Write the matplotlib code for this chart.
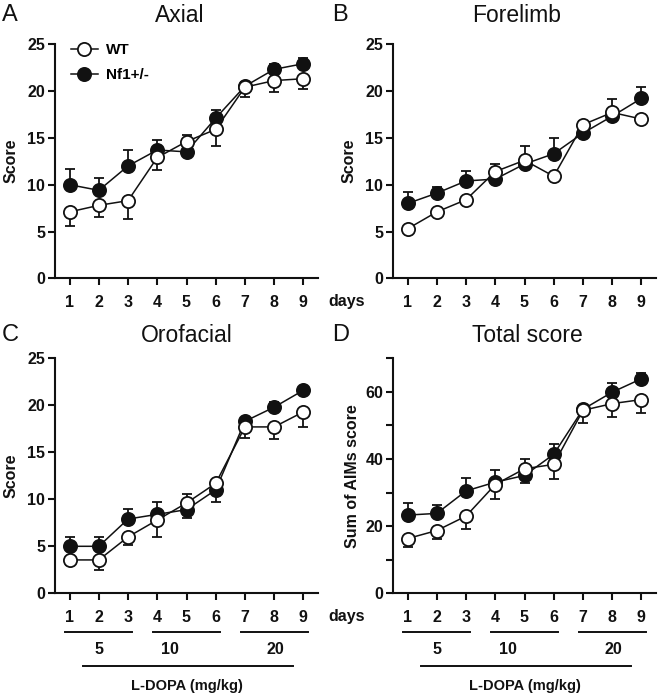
import matplotlib
matplotlib.use("Agg")
import matplotlib.pyplot as plt
import numpy as np
from matplotlib.ticker import MultipleLocator

plt.rcParams['font.family'] = ['Liberation Sans', 'DejaVu Sans']

days = [1, 2, 3, 4, 5, 6, 7, 8, 9]

axial_wt = [7.1, 7.8, 8.3, 12.9, 14.6, 15.9, 20.4, 21.1, 21.3]
axial_wt_sem = [1.5, 1.2, 2.0, 1.3, 0.7, 1.8, 1.1, 1.2, 1.1]
axial_nf = [10.0, 9.4, 12.0, 13.7, 13.5, 17.1, 20.5, 22.3, 22.9]
axial_nf_sem = [1.7, 1.3, 1.7, 1.1, 0.3, 0.9, 0.4, 0.6, 0.6]

fore_wt = [5.3, 7.1, 8.4, 11.4, 12.6, 10.9, 16.4, 17.7, 17.0]
fore_wt_sem = [0.4, 0.4, 0.4, 0.8, 1.55, 0.4, 0.4, 1.45, 0.4]
fore_nf = [8.0, 9.1, 10.4, 10.6, 12.2, 13.3, 15.5, 17.3, 19.2]
fore_nf_sem = [1.25, 0.7, 1.1, 0.4, 0.4, 1.7, 0.4, 0.4, 1.2]

oro_wt = [3.55, 3.55, 6.0, 7.8, 9.6, 11.7, 17.7, 17.7, 19.3]
oro_wt_sem = [0.55, 1.05, 0.9, 1.85, 1.0, 0.4, 1.2, 1.3, 1.6]
oro_nf = [5.0, 5.0, 7.9, 8.4, 8.9, 11.0, 18.3, 19.8, 21.6]
oro_nf_sem = [1.0, 1.0, 1.05, 1.3, 0.9, 1.3, 0.4, 0.5, 0.4]

total_wt = [16.3, 18.7, 23.0, 32.4, 37.1, 38.4, 54.5, 56.5, 57.7]
total_wt_sem = [2.4, 2.5, 3.8, 4.3, 3.0, 4.3, 3.7, 4.0, 4.0]
total_nf = [23.3, 23.8, 30.5, 33.1, 35.1, 41.4, 54.8, 59.9, 63.9]
total_nf_sem = [3.5, 2.4, 3.7, 3.5, 2.2, 3.0, 1.0, 2.6, 1.6]

series_labels = ['WT', 'Nf1+/-']
titles = ['Axial', 'Forelimb', 'Orofacial', 'Total score']
letters = ['A', 'B', 'C', 'D']
ylabels = ['Score', 'Score', 'Score', 'Sum of AIMs score']
doses = ['5', '10', '20']
dose_days = [[1, 2, 3], [4, 5, 6], [7, 8, 9]]

W, H = 660, 698
fig = plt.figure(figsize=(W / 100, H / 100), dpi=100)
INK = '#111111'
TICK_FS = 11.5

def fx(px):
    return px / W

def fy(py):
    return 1 - py / H

boxes = [(55, 44, 318, 278.5), (393, 44, 656, 278.5),
         (55, 358.3, 318, 593.3), (393, 358.3, 656, 593.3)]

panels = [(axial_wt, axial_wt_sem, axial_nf, axial_nf_sem),
          (fore_wt, fore_wt_sem, fore_nf, fore_nf_sem),
          (oro_wt, oro_wt_sem, oro_nf, oro_nf_sem),
          (total_wt, total_wt_sem, total_nf, total_nf_sem)]

title_pos = [(180, 15), (517, 15), (187, 335), (527, 335)]
letter_pos = [(2, 15), (332, 15), (2, 335), (332, 335)]

for i, (box, data) in enumerate(zip(boxes, panels)):
    x0, y0, x1, y1 = box
    ax = fig.add_axes([fx(x0), fy(y1), fx(x1 - x0), (y1 - y0) / H])
    wt, wt_sem, nf, nf_sem = [np.array(a, dtype=float) for a in data]
    x = np.array(days)
    wt_up = wt >= nf
    nf_up = ~wt_up
    wt_err = [np.where(wt_up, 0, wt_sem), np.where(wt_up, wt_sem, 0)]
    nf_err = [np.where(nf_up, 0, nf_sem), np.where(nf_up, nf_sem, 0)]

    ax.errorbar(x, nf, yerr=nf_err, fmt='none', ecolor=INK, elinewidth=1.3,
                capsize=3.8, capthick=1.3, zorder=2)
    l_nf, = ax.plot(x, nf, '-o', color=INK, lw=1.1, ms=9.5, mfc=INK, mec=INK,
                    mew=1.3, zorder=3, label=series_labels[1])
    ax.errorbar(x, wt, yerr=wt_err, fmt='none', ecolor=INK, elinewidth=1.3,
                capsize=3.8, capthick=1.3, zorder=4)
    l_wt, = ax.plot(x, wt, '-o', color=INK, lw=1.1, ms=9.5, mfc='white', mec=INK,
                    mew=1.3, zorder=5, label=series_labels[0])

    ax.set_xlim(0.5, 9.5)
    if i == 3:
        ax.set_ylim(0, 70)
        ax.yaxis.set_major_locator(MultipleLocator(20))
        ax.set_yticks([10, 30, 50, 70], minor=True)
    else:
        ax.set_ylim(0, 25)
        ax.yaxis.set_major_locator(MultipleLocator(5))
    ax.set_xticks(days)
    for s in ['top', 'right']:
        ax.spines[s].set_visible(False)
    for s in ['left', 'bottom']:
        ax.spines[s].set_linewidth(1.5)
        ax.spines[s].set_color(INK)
    ax.tick_params(which='both', direction='out', length=5, width=1.5, color=INK,
                   labelsize=TICK_FS, labelcolor=INK)
    ax.tick_params(axis='x', pad=7)
    ax.tick_params(axis='y', pad=2)
    for lab in ax.get_xticklabels() + ax.get_yticklabels():
        lab.set_fontweight('bold')
    ax.set_ylabel(ylabels[i], fontsize=11.5, fontweight='bold', color=INK,
                  labelpad=4 if i == 3 else 6)

    tx, ty = title_pos[i]
    fig.text(fx(tx), fy(ty), titles[i], fontsize=16.5, ha='center', va='center', color=INK)
    lx, ly = letter_pos[i]
    fig.text(fx(lx), fy(ly), letters[i], fontsize=17, ha='left', va='center', color=INK)

    if i in (1, 3):
        ax.text(-0.175, -0.1, 'days', transform=ax.transAxes, fontsize=TICK_FS,
                fontweight='bold', ha='center', va='center', color=INK)

    if i == 0:
        ax.legend(handles=[l_wt, l_nf], loc='upper left', bbox_to_anchor=(0.03, 1.035),
                  frameon=False, handlelength=1.8, handletextpad=0.55, borderpad=0,
                  labelspacing=0.7, prop={'weight': 'bold', 'size': 11})

    if i in (2, 3):
        tr = ax.get_xaxis_transform()
        hpx = y1 - y0
        ly1 = -(632 - y1) / hpx
        ly2 = -(650 - y1) / hpx
        ly3 = -(666 - y1) / hpx
        ly4 = -(686 - y1) / hpx
        label_x = [2.0, 4.45, 8.05]
        for d, dd, lxp in zip(doses, dose_days, label_x):
            ax.plot([min(dd) - 0.15, max(dd) + 0.15], [ly1, ly1], color=INK, lw=1.4,
                    transform=tr, clip_on=False)
            ax.text(lxp, ly2, d, transform=tr, fontsize=TICK_FS, fontweight='bold',
                    ha='center', va='center', color=INK)
        ax.plot([1.45, 8.65], [ly3, ly3], color=INK, lw=1.4, transform=tr, clip_on=False)
        ax.text(5.0, ly4, 'L-DOPA (mg/kg)', transform=tr, fontsize=10.5, fontweight='bold',
                ha='center', va='center', color=INK)

fig.savefig('out.png', dpi=100)
